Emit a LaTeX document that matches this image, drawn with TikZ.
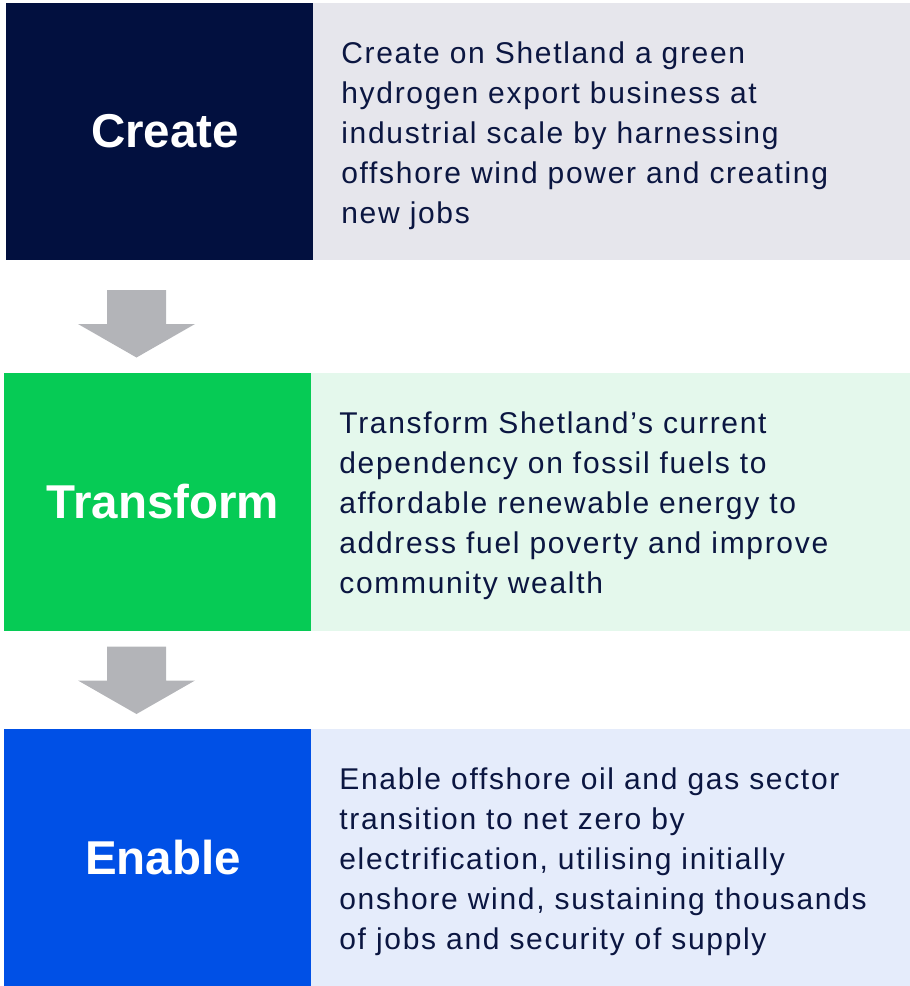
\documentclass[tikz,border=0pt]{standalone}
\usepackage{fontspec}
\setmainfont{Liberation Sans}
\usepackage{tikz}
\usetikzlibrary{positioning}
\definecolor{navy}{HTML}{02103F}
\definecolor{leafgreen}{HTML}{06CB55}
\definecolor{brightblue}{HTML}{0050E6}
\definecolor{palegray}{HTML}{E6E6EC}
\definecolor{palegreen}{HTML}{E4F8EC}
\definecolor{paleblue}{HTML}{E5ECFB}
\definecolor{arrowgray}{HTML}{B3B4B8}
\definecolor{inknavy}{HTML}{0B1641}

\begin{document}
\begin{tikzpicture}[x=1pt, y=-1pt,
            TITLE/.style={rectangle, minimum width=307pt, minimum height=257pt, inner sep=0pt, text=white, font=\fontsize{47.5}{52}\selectfont\bfseries, execute at begin node=\kern11pt},
            DESC/.style={rectangle, minimum height=257pt, inner xsep=28pt, inner ysep=0pt, text width=543pt, align=left, text=inknavy, font=\fontsize{30}{40}\selectfont\addfontfeature{LetterSpace=5.6}, execute at begin node=\rule{0pt}{30pt}},
            FLOW/.style={fill=arrowgray},
        ]
        \useasboundingbox (0,0) rectangle (910,986);

        \node[TITLE, fill=navy]       (Create)      at (159.5,131.5) {Create};
        \node[DESC, fill=palegray]    (Create_Text) [right=0pt of Create] {Create on Shetland a green\\hydrogen export business at\\industrial scale by harnessing\\offshore wind power and creating\\new jobs};

        \node[TITLE, fill=leafgreen, minimum height=258pt]  (Transform)      at (157.5,501.7) {Transform};
        \node[DESC, fill=palegreen, minimum height=258pt]   (Transform_Text) [right=0pt of Transform] {Transform Shetland’s current\\dependency on fossil fuels to\\affordable renewable energy to\\address fuel poverty and improve\\community wealth};

        \node[TITLE, fill=brightblue] (Enable)      at (157.5,857.8) {Enable};
        \node[DESC, fill=paleblue]    (Enable_Text) [right=0pt of Enable] {Enable offshore oil and gas sector\\transition to net zero by\\electrification, utilising initially\\onshore wind, sustaining thousands\\of jobs and security of supply};

        \coordinate (Arrow_A) at (136.5,290);
        \coordinate (Arrow_B) at (136.5,646.5);
        \foreach \a in {Arrow_A, Arrow_B}
            \fill[FLOW, shift={(\a)}] (-29.5,0) -- (29.5,0) -- (29.5,34) -- (58.5,34) -- (0,67.5) -- (-58.5,34) -- (-29.5,34) -- cycle;

    \end{tikzpicture}
\end{document}
